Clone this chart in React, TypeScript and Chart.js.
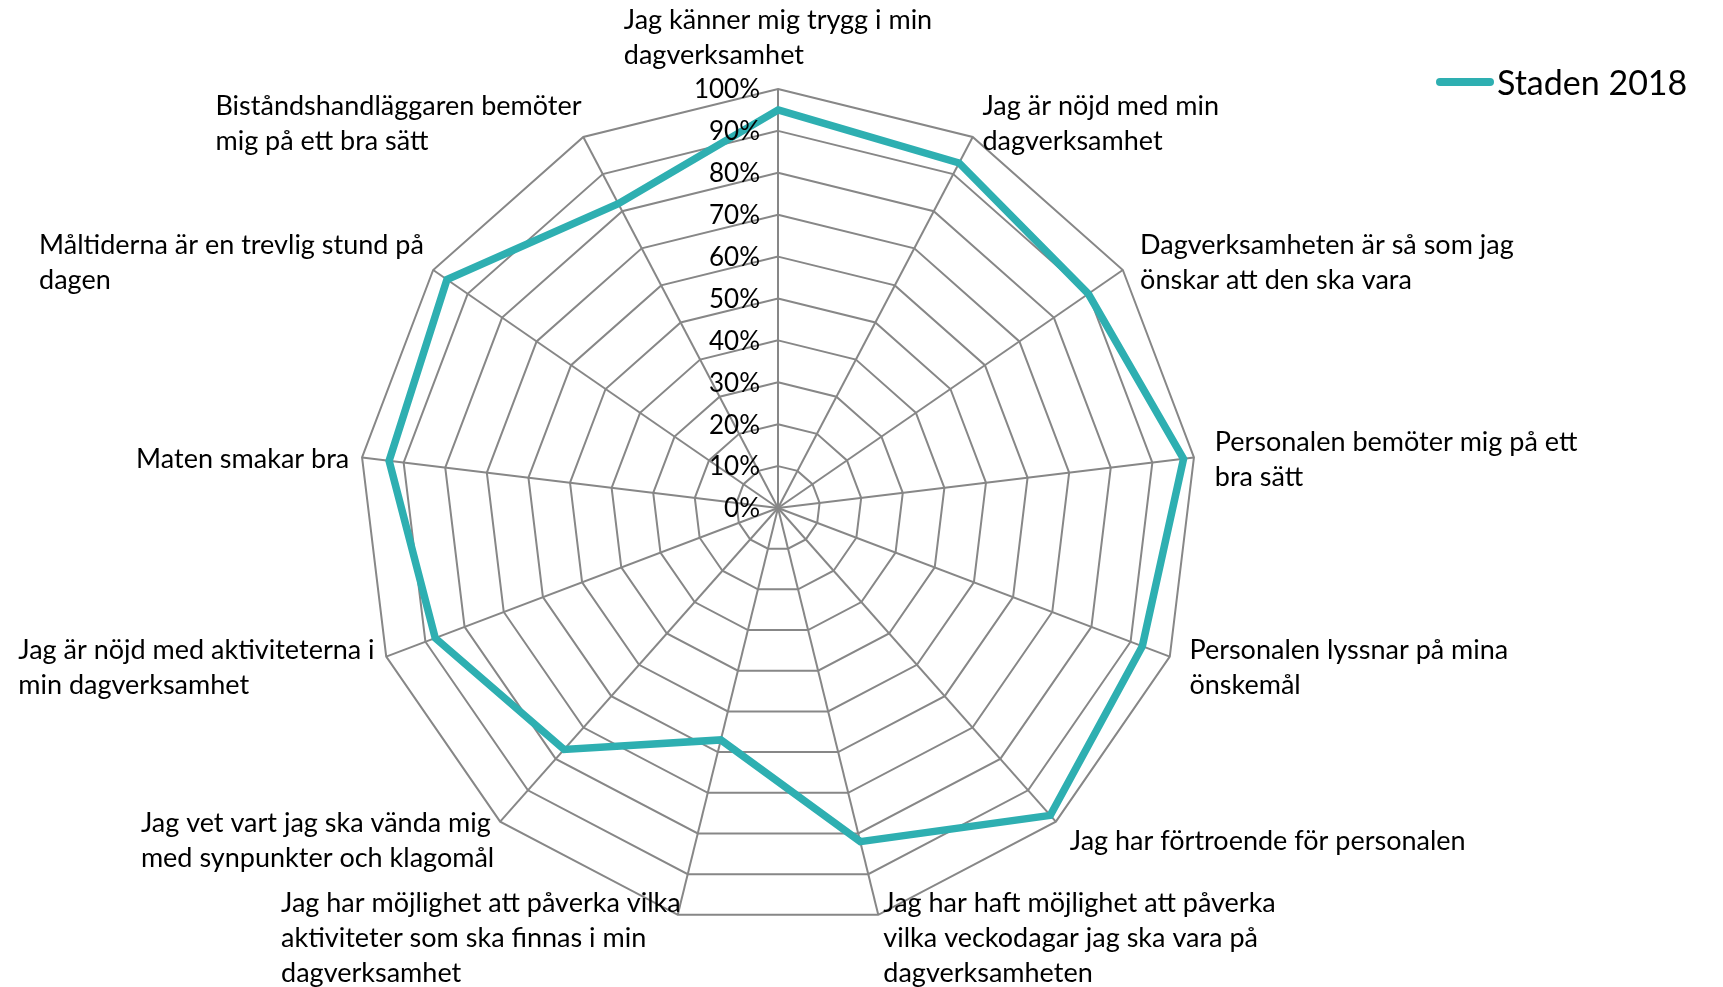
import React, { useEffect, useRef } from "react";
import { Chart, registerables } from "chart.js";

Chart.register(...registerables);

const categories: string[][] = [
  ["Jag känner mig trygg i min", "dagverksamhet"],
  ["Jag är nöjd med min", "dagverksamhet"],
  ["Dagverksamheten är så som jag", "önskar att den ska vara"],
  ["Personalen bemöter mig på ett", "bra sätt"],
  ["Personalen lyssnar på mina", "önskemål"],
  ["Jag har förtroende för personalen"],
  ["Jag har haft möjlighet att påverka", "vilka veckodagar jag ska vara på", "dagverksamheten"],
  ["Jag har möjlighet att påverka vilka", "aktiviteter som ska finnas i min", "dagverksamhet"],
  ["Jag vet vart jag ska vända mig", "med synpunkter och klagomål"],
  ["Jag är nöjd med aktiviteterna i", "min dagverksamhet"],
  ["Maten smakar bra"],
  ["Måltiderna är en trevlig stund på", "dagen"],
  ["Biståndshandläggaren bemöter", "mig på ett bra sätt"],
];

const seriesName = "Staden 2018";
const seriesValues = [95, 93, 90, 97.5, 93, 98, 82, 57, 77, 87.5, 93.5, 96, 82];
const tickLabels = ["0%", "10%", "20%", "30%", "40%", "50%", "60%", "70%", "80%", "90%", "100%"];

const LINE_COLOR = "#2EAFB1";
const GRID_COLOR = "#878787";
const FONT = "Lato, 'Open Sans', sans-serif";

const overlayPlugin = {
  id: "overlay",
  afterDatasetsDraw(chart: any) {
    const ctx: CanvasRenderingContext2D = chart.ctx;
    const scale = chart.scales.r;
    const R = scale.drawingArea;
    const xc = scale.xCenter;
    const yc = scale.yCenter;
    ctx.save();
    ctx.fillStyle = "#000";

    // tick labels
    ctx.font = `26px ${FONT}`;
    ctx.textAlign = "right";
    ctx.textBaseline = "middle";
    scale.ticks.forEach((t: any, k: number) => {
      const d = scale.getDistanceFromCenterForValue(t.value);
      ctx.fillText(tickLabels[k] ?? String(t.value), xc - 18, yc - d + 1);
    });

    // point labels
    ctx.font = `27px ${FONT}`;
    const lineH = 35;
    ctx.textAlign = "left";
    (chart.data.labels as string[][]).forEach((lines, i) => {
      const ep = scale.getPointPosition(i, R);
      const sx = (ep.x - xc) / R;
      const cy = (yc - ep.y) / R;
      const W = Math.max(...lines.map((l) => ctx.measureText(l).width));
      const H = lines.length * lineH;
      let left: number;
      let centerY: number;
      if (Math.abs(sx) < 0.1) {
        left = ep.x - W / 2;
        centerY = cy > 0 ? ep.y - 16.5 - H / 2 : ep.y + 16.5 + H / 2;
      } else {
        centerY = ep.y + 4.4 - cy * 20;
        left = sx > 0 ? ep.x + 21 * sx : ep.x + 21 * sx + 8 - W;
      }
      lines.forEach((l, k) => {
        ctx.fillText(l, left, centerY + (k - (lines.length - 1) / 2) * lineH);
      });
    });

    // legend
    const lx = chart.width - 283;
    const ly = 82;
    ctx.strokeStyle = LINE_COLOR;
    ctx.lineWidth = 8;
    ctx.lineCap = "round";
    ctx.beginPath();
    ctx.moveTo(lx, ly);
    ctx.lineTo(lx + 50, ly);
    ctx.stroke();
    ctx.font = `34px ${FONT}`;
    ctx.textBaseline = "middle";
    ctx.fillText(chart.data.datasets[0].label, lx + 57, ly + 2);
    ctx.restore();
  },
};

export default function App() {
  const ref = useRef<HTMLCanvasElement | null>(null);
  useEffect(() => {
    document.body.style.margin = "0";
    const chart = new Chart(ref.current as HTMLCanvasElement, {
      type: "radar",
      data: {
        labels: categories as any,
        datasets: [
          {
            label: seriesName,
            data: seriesValues,
            borderColor: LINE_COLOR,
            backgroundColor: "transparent",
            borderWidth: 7.5,
            pointRadius: 0,
            pointHoverRadius: 0,
            fill: false,
            tension: 0,
            borderJoinStyle: "miter",
          } as any,
        ],
      },
      options: {
        animation: false,
        responsive: true,
        maintainAspectRatio: false,
        layout: { padding: { left: 359, right: 526, top: 89, bottom: 60 } },
        plugins: { legend: { display: false }, tooltip: { enabled: false } },
        scales: {
          r: {
            min: 0,
            max: 100,
            beginAtZero: true,
            ticks: { stepSize: 10, display: false },
            grid: { color: GRID_COLOR, lineWidth: 2, circular: false },
            angleLines: { color: GRID_COLOR, lineWidth: 2 },
            pointLabels: { display: false },
          },
        },
      },
      plugins: [overlayPlugin],
    });
    return () => chart.destroy();
  }, []);
  return (
    <div style={{ position: "absolute", left: 0, top: 0, width: 1723, height: 987, background: "#fff" }}>
      <canvas ref={ref} />
    </div>
  );
}
